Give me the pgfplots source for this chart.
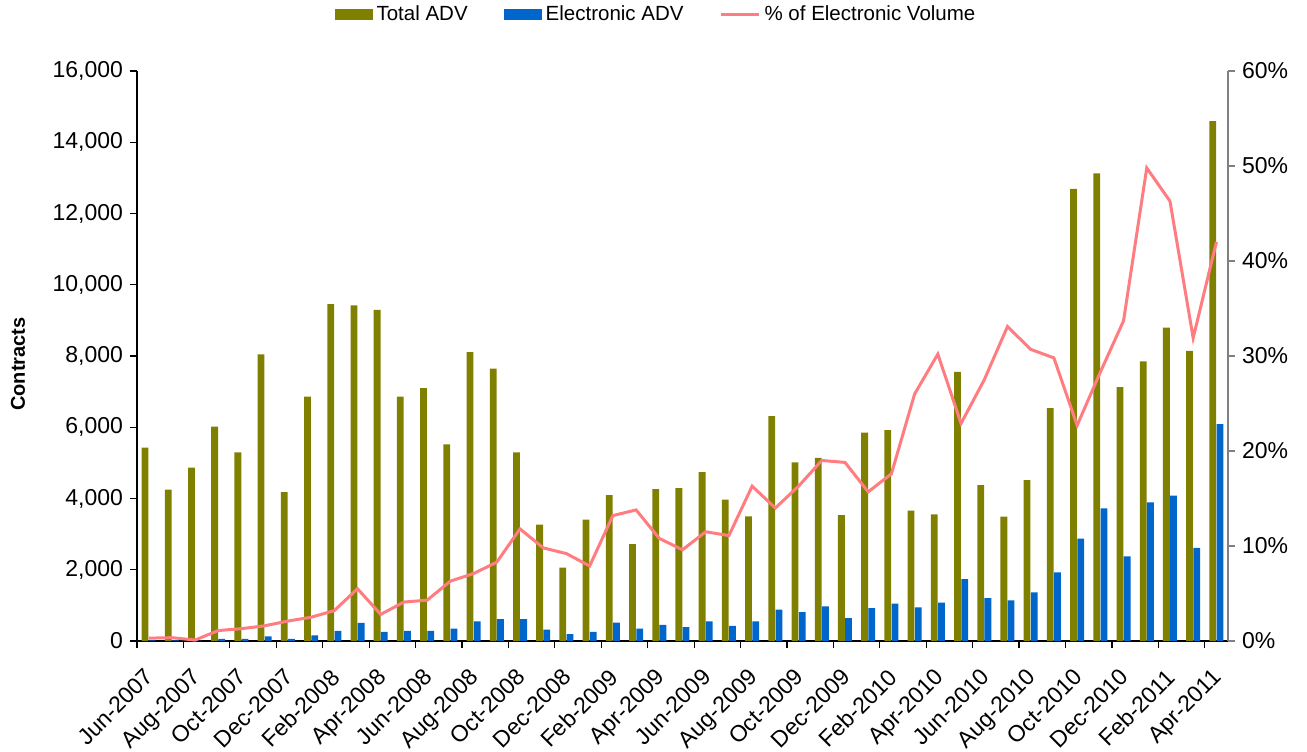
\documentclass[border=0pt]{standalone}
\usepackage{fontspec}
\setmainfont{Liberation Sans}
\usepackage{pgfplots}
\usepackage{pgfplotstable}
\pgfplotsset{compat=1.18}
\definecolor{tolive}{HTML}{808000}
\definecolor{eblue}{HTML}{0066CC}
\definecolor{lpink}{HTML}{FF7C80}

\pgfplotstableread{
x total elec pct
0 5425 20 0.3
1 4250 20 0.35
2 4865 10 0.1
3 6017 63 1.1
4 5298 63 1.3
5 8048 127 1.6
6 4177 63 2.1
7 6863 160 2.5
8 9454 285 3.2
9 9422 508 5.5
10 9296 254 2.8
11 6863 285 4.1
12 7096 285 4.3
13 5520 349 6.3
14 8111 550 7.1
15 7646 613 8.3
16 5298 613 11.8
17 3268 317 9.8
18 2062 190 9.2
19 3405 254 7.9
20 4093 518 13.2
21 2718 349 13.8
22 4262 455 10.8
23 4294 391 9.6
24 4738 550 11.5
25 3966 423 11.1
26 3500 550 16.3
27 6313 878 14.0
28 5013 814 16.3
29 5140 973 19.0
30 3532 645 18.8
31 5848 920 15.7
32 5922 1047 17.6
33 3659 941 26.0
34 3553 1079 30.2
35 7551 1734 22.9
36 4378 1206 27.5
37 3490 1142 33.1
38 4516 1364 30.7
39 6536 1925 29.8
40 12690 2877 22.7
41 13124 3722 28.3
42 7128 2379 33.7
43 7847 3892 49.8
44 8799 4082 46.3
45 8143 2612 31.9
46 14594 6091 42.0
}\datatable

\begin{document}
\begin{tikzpicture}
\path[use as bounding box] (-68.5pt,-55pt) rectangle (585pt,320.5pt);
\begin{axis}[
  at={(0,0)}, anchor=south west,
  scale only axis, width=545.5pt, height=285pt,
  xmin=-0.5, xmax=46.5, ymin=0, ymax=16000,
  scaled y ticks=false,
  axis x line*=bottom, axis y line*=left,
  axis line style={line width=0.8pt, black},
  tick align=outside,
  xtick={0,2,...,46},
  xticklabels={Jun-2007,Aug-2007,Oct-2007,Dec-2007,Feb-2008,Apr-2008,Jun-2008,Aug-2008,Oct-2008,Dec-2008,Feb-2009,Apr-2009,Jun-2009,Aug-2009,Oct-2009,Dec-2009,Feb-2010,Apr-2010,Jun-2010,Aug-2010,Oct-2010,Dec-2010,Feb-2011,Apr-2011},
  major x tick style={draw=none},
  minor xtick={-0.5,1.5,...,45.5},
  minor x tick style={draw=black, line width=0.6pt},
  minor tick length=3.5pt,
  major tick length=3.5pt,
  ytick={0,2000,...,16000},
  yticklabels={0,{2,000},{4,000},{6,000},{8,000},{10,000},{12,000},{14,000},{16,000}},
  ytick style={line width=0.6pt, black},
  tick label style={font=\fontsize{11.5}{13}\selectfont},
  xticklabel style={xshift=-2.5pt, yshift=-8pt, rotate=45, anchor=north east, inner sep=1pt},
  every axis y label/.style={at={(axis description cs:-0.1091,0.486)}, rotate=90, anchor=center, font=\bfseries\fontsize{10}{12}\selectfont},
  ylabel={Contracts},
  legend style={draw=none, fill=none, legend columns=3, at={(0.4766,1)}, anchor=center, yshift=28pt,
    font=\fontsize{10.25}{12}\selectfont,
    /tikz/every even column/.append style={column sep=16pt}},
]
\addplot[ybar, bar width=3.4pt, bar shift=-1.8pt, fill=tolive, draw=none,
  legend image code/.code={\fill[tolive] (0pt,-2.75pt) rectangle (19pt,2.75pt);}]
  table[x=x,y=total]{\datatable};
\addlegendentry{Total ADV}
\addplot[ybar, bar width=3.4pt, bar shift=1.8pt, fill=eblue, draw=none,
  legend image code/.code={\fill[eblue] (0pt,-2.75pt) rectangle (19pt,2.75pt);}]
  table[x=x,y=elec]{\datatable};
\addlegendentry{Electronic ADV}
\addlegendimage{lpink, line width=1.5pt, legend image code/.code={\draw[lpink, line width=1.5pt] (0pt,0pt) -- (19pt,0pt);}}
\addlegendentry{\% of Electronic Volume}
\end{axis}
\begin{axis}[
  at={(0,0)}, anchor=south west,
  scale only axis, width=545.5pt, height=285pt,
  xmin=-0.5, xmax=46.5, ymin=0, ymax=60,
  hide x axis, axis y line*=right,
  axis line style={line width=0.8pt, gray},
  tick align=outside, major tick length=3.5pt,
  ytick={0,10,...,60},
  yticklabels={0\%,10\%,20\%,30\%,40\%,50\%,60\%},
  ytick style={line width=0.6pt, gray},
  tick label style={font=\fontsize{11.5}{13}\selectfont},
]
\addplot[lpink, line width=1.5pt, mark=none] table[x=x,y=pct]{\datatable};
\end{axis}
\end{tikzpicture}
\end{document}
